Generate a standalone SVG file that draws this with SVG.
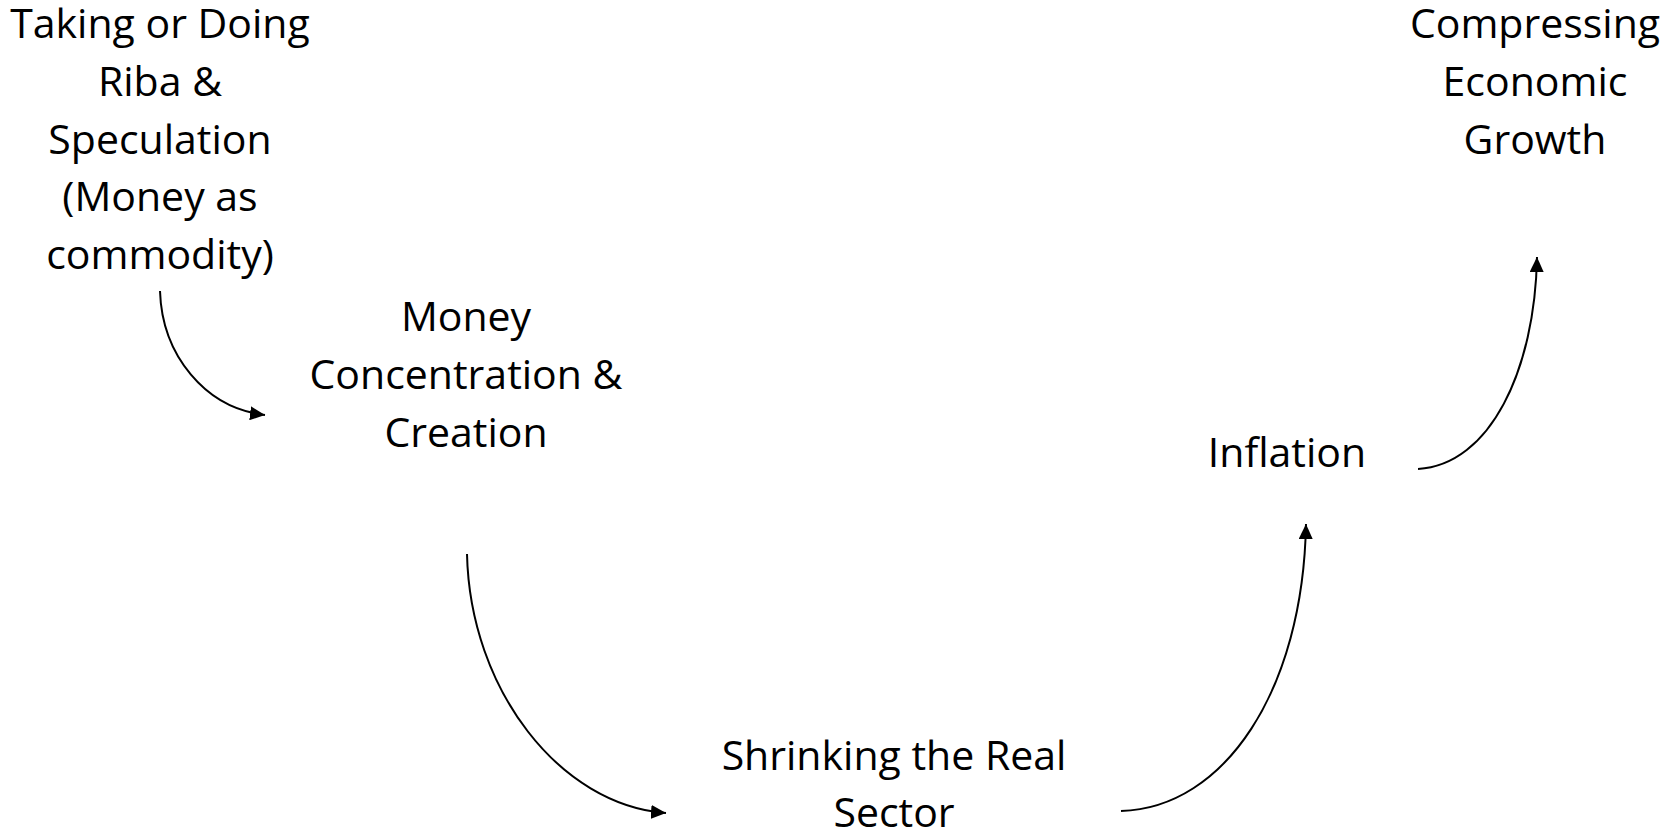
<svg xmlns="http://www.w3.org/2000/svg" width="1678" height="830" viewBox="0 0 1678 830">
  <style>
    .label { font-family: "Open Sans", "Liberation Sans", sans-serif; font-size: 41px; fill: #000; text-anchor: middle; }
    .link { fill: none; stroke: #000; stroke-width: 2; }
  </style>
  <defs>
    <marker id="head" markerUnits="userSpaceOnUse" markerWidth="16" markerHeight="14" refX="15" refY="7" orient="auto">
      <path d="M0,0 L15,7 L0,14 z" fill="#000"/>
    </marker>
  </defs>
  <rect width="1678" height="830" fill="#fff"/>

  <g id="connectors">
    <path class="link" marker-end="url(#head)" d="M160,291 C162,355 205,408 265,415"/>
    <path class="link" marker-end="url(#head)" d="M467,554 C470,690 560,805 666,813"/>
    <path class="link" marker-end="url(#head)" d="M1121,811 C1225,808 1303,690 1306,524"/>
    <path class="link" marker-end="url(#head)" d="M1418,469 C1490,465 1535,370 1537,257"/>
  </g>

  <g id="riba">
    <text class="label" x="160" y="38">Taking or Doing</text>
    <text class="label" x="160" y="96">Riba &amp;</text>
    <text class="label" x="160" y="154">Speculation</text>
    <text class="label" x="160" y="211">(Money as</text>
    <text class="label" x="160" y="269">commodity)</text>
  </g>

  <g id="money">
    <text class="label" x="466" y="331">Money</text>
    <text class="label" x="466" y="389">Concentration &amp;</text>
    <text class="label" x="466" y="447">Creation</text>
  </g>

  <g id="real-sector">
    <text class="label" x="894" y="770">Shrinking the Real</text>
    <text class="label" x="894" y="827">Sector</text>
  </g>

  <g id="inflation">
    <text class="label" x="1287" y="467">Inflation</text>
  </g>

  <g id="growth">
    <text class="label" x="1535" y="38">Compressing</text>
    <text class="label" x="1535" y="96">Economic</text>
    <text class="label" x="1535" y="154">Growth</text>
  </g>
</svg>
